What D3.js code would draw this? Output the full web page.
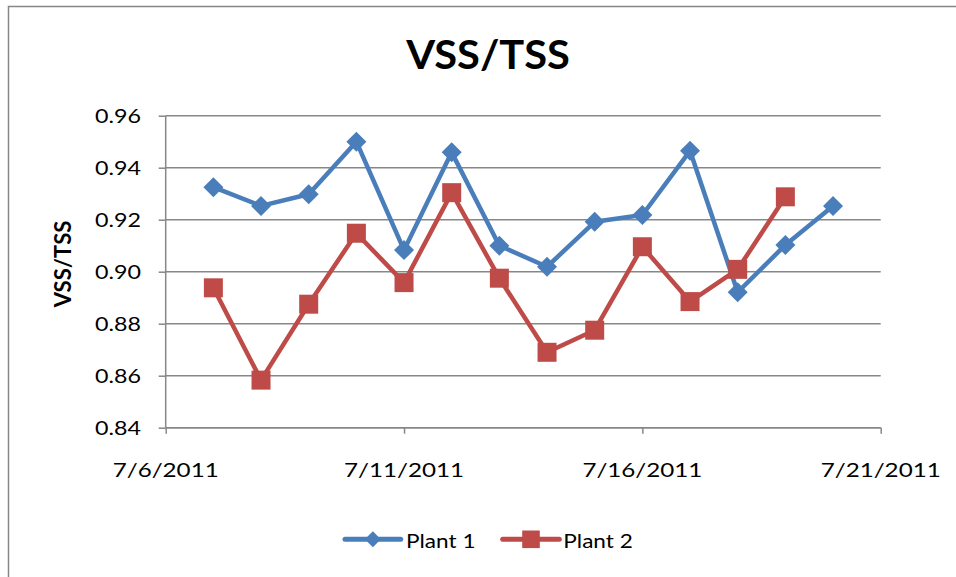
<!DOCTYPE html>
<html>
<head>
<meta charset="utf-8">
<script src="https://cdn.jsdelivr.net/npm/d3@7"></script>
<style>
  html, body { margin: 0; padding: 0; background: #fff; }
  svg { display: block; }
  text { font-family: Lato, "Open Sans", "Noto Sans", sans-serif; fill: #000; }
</style>
</head>
<body>
<script>
// Daily VSS/TSS readings for the two plants
const plant1Dates = ["2011-07-07","2011-07-08","2011-07-09","2011-07-10","2011-07-11","2011-07-12","2011-07-13",
                     "2011-07-14","2011-07-15","2011-07-16","2011-07-17","2011-07-18","2011-07-19","2011-07-20"];
const plant1Values = [0.9325, 0.9253, 0.9298, 0.9500, 0.9083, 0.9459, 0.9100,
                      0.9019, 0.9192, 0.9218, 0.9465, 0.8921, 0.9103, 0.9253];
const plant2Dates = ["2011-07-07","2011-07-08","2011-07-09","2011-07-10","2011-07-11","2011-07-12","2011-07-13",
                     "2011-07-14","2011-07-15","2011-07-16","2011-07-17","2011-07-18","2011-07-19"];
const plant2Values = [0.8938, 0.8583, 0.8875, 0.9148, 0.8958, 0.9304, 0.8975,
                      0.8690, 0.8775, 0.9096, 0.8885, 0.9009, 0.9288];
const seriesNames = ["Plant 1", "Plant 2"];
const xDomain = ["2011-07-06", "2011-07-21"];
const xTickDates = ["2011-07-06", "2011-07-11", "2011-07-16", "2011-07-21"];
const yDomain = [0.84, 0.96];
const yTickValues = [0.84, 0.86, 0.88, 0.90, 0.92, 0.94, 0.96];
const chartTitle = "VSS/TSS";
const yAxisTitle = "VSS/TSS";

const W = 956, H = 577;
const plot = { left: 165.7, right: 880.7, top: 115.7, bottom: 427.7 };
const colors = ["#4A7EBB", "#BE4B48"];
const gridColor = "#878787";

const parse = d3.timeParse("%Y-%m-%d");
const fmt = d3.timeFormat("%-m/%-d/%Y");

const svg = d3.select("body").append("svg").attr("width", W).attr("height", H);
svg.append("rect").attr("width", W).attr("height", H).attr("fill", "#fff");

// chart area frame
svg.append("rect").attr("x", 8.5).attr("y", 6.5).attr("width", 980).attr("height", 620)
  .attr("fill", "none").attr("stroke", gridColor).attr("stroke-width", 1.5);

const x = d3.scaleTime().domain(xDomain.map(parse)).range([plot.left, plot.right]);
const y = d3.scaleLinear().domain(yDomain).range([plot.bottom, plot.top]);

// horizontally stretched text helper
function stretchedText(parent, px, py, str, opts) {
  const g = parent.append("g").attr("transform", `translate(${px},${py}) scale(${opts.sx || 1},1)`);
  return g.append("text").attr("x", 0).attr("y", 0)
    .attr("text-anchor", opts.anchor || "start")
    .attr("font-size", opts.size)
    .attr("font-weight", opts.weight || "normal")
    .text(str);
}

// gridlines + y axis
const yAxis = d3.axisLeft(y).tickValues(yTickValues).tickSize(7).tickFormat("");
const yG = svg.append("g").attr("transform", `translate(${plot.left},0)`).call(yAxis);
yG.select(".domain").remove();
yG.selectAll(".tick line").attr("stroke", gridColor).attr("stroke-width", 1.5);
svg.append("g").selectAll("line").data(yTickValues).join("line")
  .attr("x1", plot.left).attr("x2", plot.right)
  .attr("y1", d => y(d)).attr("y2", d => y(d))
  .attr("stroke", gridColor).attr("stroke-width", 1.5);
svg.append("line").attr("x1", plot.left).attr("x2", plot.left)
  .attr("y1", plot.top).attr("y2", plot.bottom)
  .attr("stroke", gridColor).attr("stroke-width", 1.5);
yTickValues.forEach(v => {
  stretchedText(svg, 141, y(v) + 7.3, d3.format(".2f")(v), { anchor: "end", size: 18.6, sx: 1.25 });
});

// x axis
const xTicks = xTickDates.map(parse);
const xAxis = d3.axisBottom(x).tickValues(xTicks).tickSize(6).tickFormat("");
const xG = svg.append("g").attr("transform", `translate(0,${plot.bottom})`).call(xAxis);
xG.select(".domain").attr("d", `M${plot.left},0H${plot.right}`).attr("stroke", gridColor).attr("stroke-width", 1.5);
xG.selectAll(".tick line").attr("stroke", gridColor).attr("stroke-width", 1.5);
xTicks.forEach(d => {
  stretchedText(svg, x(d), 476.7, fmt(d), { anchor: "middle", size: 18.6, sx: 1.3 });
});

// titles
stretchedText(svg, 488, 69.3, chartTitle, { anchor: "middle", size: 40, weight: "bold", sx: 1.04 });
svg.append("g").attr("transform", "translate(71,264) rotate(-90)")
  .append("text").attr("text-anchor", "middle").attr("font-size", 22).attr("font-weight", "bold")
  .text(yAxisTitle);

// series
const series = [
  plant1Dates.map((d, i) => ({ date: parse(d), value: plant1Values[i] })),
  plant2Dates.map((d, i) => ({ date: parse(d), value: plant2Values[i] }))
];
const line = d3.line().x(d => x(d.date)).y(d => y(d.value));
const diamond = s => `M0,${-s}L${s},0L0,${s}L${-s},0Z`;
const square = s => `M${-s},${-s}H${s}V${s}H${-s}Z`;
const markers = [diamond, square];
const markerSize = [10, 9.5];

series.forEach((data, i) => {
  svg.append("path").datum(data).attr("d", line)
    .attr("fill", "none").attr("stroke", colors[i]).attr("stroke-width", 4.5)
    .attr("stroke-linejoin", "round");
  svg.append("g").selectAll("path").data(data).join("path")
    .attr("transform", d => `translate(${x(d.date)},${y(d.value)})`)
    .attr("d", markers[i](markerSize[i]))
    .attr("fill", colors[i]);
});

// legend
const legendItems = [
  { x0: 345, x1: 400.7, textX: 406, marker: diamond(8) },
  { x0: 502.7, x1: 559.3, textX: 563.3, marker: square(8.8) }
];
const ly = 539.3;
legendItems.forEach((it, i) => {
  svg.append("line").attr("x1", it.x0).attr("x2", it.x1).attr("y1", ly).attr("y2", ly)
    .attr("stroke", colors[i]).attr("stroke-width", 5).attr("stroke-linecap", "round");
  svg.append("path").attr("transform", `translate(${(it.x0 + it.x1) / 2},${ly})`)
    .attr("d", it.marker).attr("fill", colors[i]);
  stretchedText(svg, it.textX, 547.7, seriesNames[i], { size: 20, sx: 1.13 });
});
</script>
</body>
</html>
